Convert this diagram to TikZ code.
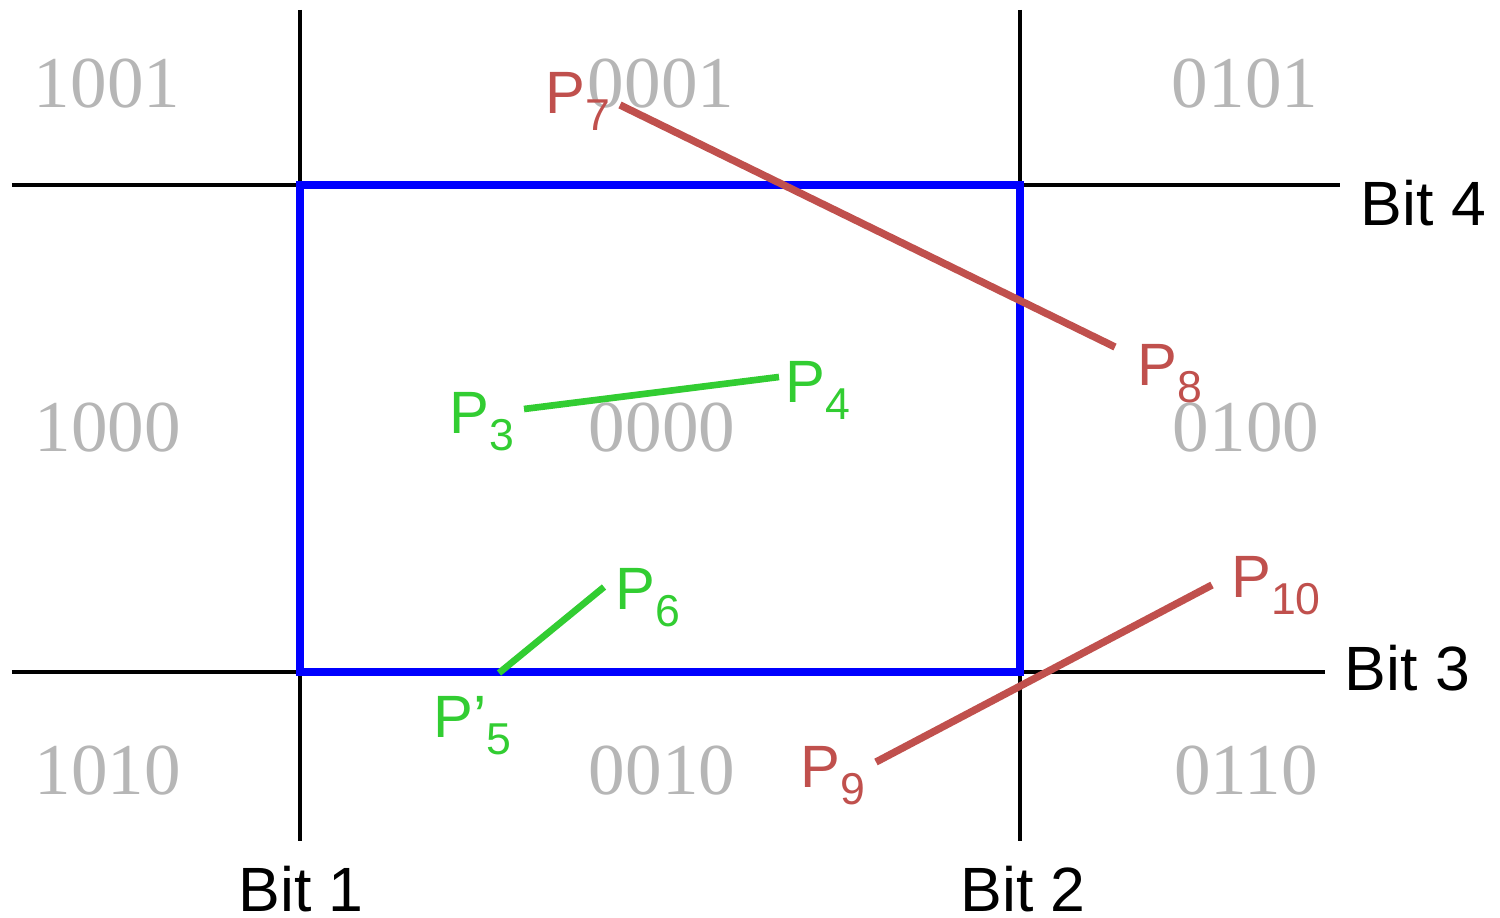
\documentclass[tikz,border=0pt]{standalone}
\usepackage{fontspec}
\setmainfont{Liberation Serif}
\newfontfamily\labelfont{Liberation Sans}
\usepackage{xcolor}
\usepackage{tikz}
\usetikzlibrary{calc}
\definecolor{GrisCodigo}{RGB}{182,182,182}
\definecolor{RojoSegmento}{RGB}{192,80,77}
\definecolor{VerdeSegmento}{RGB}{50,205,50}
\definecolor{AzulVentana}{RGB}{0,0,255}
\newcommand{\ptlabel}[2][]{P#1\raisebox{-5.1pt}{\fontsize{12.7}{13}\selectfont #2}}

\begin{document}
\begin{tikzpicture}[x=1cm,y=1cm,
  rejilla/.style={line width=1.1pt,black},
  ventana/.style={line width=2.2pt,AzulVentana},
  dentro/.style={line width=1.9pt,VerdeSegmento},
  fuera/.style={line width=2.1pt,RojoSegmento},
  codigo/.style={font=\fontsize{20.8}{21}\selectfont,text=GrisCodigo,inner sep=0pt},
  etiqueta/.style={font=\labelfont\fontsize{17}{17}\selectfont,inner sep=0pt,anchor=base west},
  bit/.style={font=\labelfont\fontsize{17.8}{18}\selectfont,inner sep=0pt}]
  \useasboundingbox (0,0) rectangle (15,9.17);
  % grid lines
  \coordinate (B1a) at (3.00,9.07);  \coordinate (B1b) at (3.00,0.76);
  \coordinate (B2a) at (10.20,9.07); \coordinate (B2b) at (10.20,0.76);
  \coordinate (B4a) at (0.12,7.32);  \coordinate (B4b) at (13.40,7.32);
  \coordinate (B3a) at (0.12,2.45);  \coordinate (B3b) at (13.25,2.45);
  \draw[rejilla] (B1a) -- (B1b);
  \draw[rejilla] (B2a) -- (B2b);
  \draw[rejilla] (B4a) -- (B4b);
  \draw[rejilla] (B3a) -- (B3b);
  \node[bit,anchor=base] (bit1) at (3.01,0.06) {Bit 1};
  \node[bit,anchor=base] (bit2) at (10.23,0.06) {Bit 2};
  \node[bit,anchor=base west] (bit4) at (13.60,6.91) {Bit 4};
  \node[bit,anchor=base west] (bit3) at (13.44,2.27) {Bit 3};
  % clipping window
  \draw[ventana] (3.00,7.32) rectangle (10.20,2.45);
  % region codes
  \node[codigo] (c1001) at (1.07,8.33) {1001};
  \node[codigo] (c0001) at (6.61,8.33) {0001};
  \node[codigo] (c0101) at (12.45,8.33) {0101};
  \node[codigo] (c1000) at (1.08,4.89) {1000};
  \node[codigo] (c0000) at (6.62,4.89) {0000};
  \node[codigo] (c0100) at (12.46,4.89) {0100};
  \node[codigo] (c1010) at (1.08,1.46) {1010};
  \node[codigo] (c0010) at (6.62,1.46) {0010};
  \node[codigo] (c0110) at (12.46,1.46) {0110};
  % segments
  \coordinate (P3) at (5.24,5.08);  \coordinate (P4) at (7.79,5.40);
  \coordinate (P5) at (4.99,2.44);  \coordinate (P6) at (6.04,3.30);
  \coordinate (P7) at (6.20,8.12);  \coordinate (P8) at (11.15,5.70);
  \coordinate (P9) at (8.76,1.55);  \coordinate (P10) at (12.12,3.32);
  \draw[dentro] (P3) -- (P4);
  \draw[dentro] (P5) -- (P6);
  \draw[fuera] (P7) -- (P8);
  \draw[fuera] (P9) -- (P10);
  \node[etiqueta,text=VerdeSegmento] (l3) at (4.485,4.84) {\ptlabel{3}};
  \node[etiqueta,text=VerdeSegmento] (l4) at (7.845,5.15) {\ptlabel{4}};
  \node[etiqueta,text=VerdeSegmento] (l5) at (4.325,1.80) {\ptlabel[’]{5}};
  \node[etiqueta,text=VerdeSegmento] (l6) at (6.145,3.08) {\ptlabel{6}};
  \node[etiqueta,text=RojoSegmento] (l7) at (5.445,8.04) {\ptlabel{7}};
  \node[etiqueta,text=RojoSegmento] (l8) at (11.365,5.32) {\ptlabel{8}};
  \node[etiqueta,text=RojoSegmento] (l9) at (7.995,1.30) {\ptlabel{9}};
  \node[etiqueta,text=RojoSegmento] (l10) at (12.305,3.20) {\ptlabel{10}};
\end{tikzpicture}
\end{document}
